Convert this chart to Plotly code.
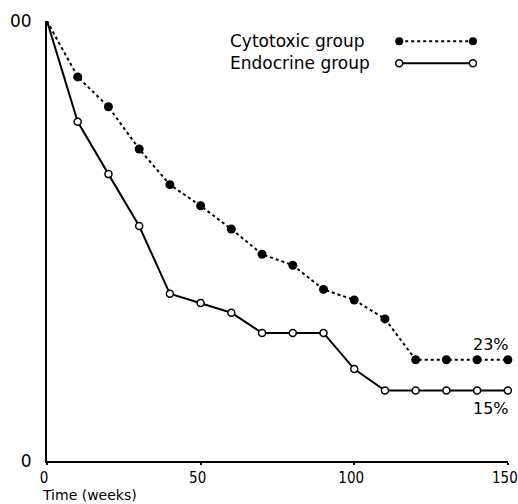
import plotly.graph_objects as go

# ---- data ----
weeks = [0, 10, 20, 30, 40, 50, 60, 70, 80, 90, 100, 110, 120, 130, 140, 150]
cytotoxic = [100, 87.3, 80.5, 70.9, 62.8, 58.0, 52.7, 47.0, 44.5, 39.0, 36.6, 32.3, 23, 23, 23, 23]
endocrine = [100, 77.1, 65.2, 53.4, 38.0, 35.9, 33.7, 29.1, 29.1, 29.1, 20.9, 16, 16, 16, 16, 16]
x_ticks = [0, 50, 100, 150]
y_ticks = [0, 100]
y_ticklabels = ["0", "00"]
series_names = ["Cytotoxic group", "Endocrine group"]
end_labels = ["23%", "15%"]

FONT = "DejaVu Sans"
TICKFONT = "DejaVu Sans Condensed, DejaVu Sans"
fig = go.Figure()

# main curves (first point has no marker)
cyt_sizes = [0] + [9] * (len(weeks) - 1)
end_sizes = [0] + [7] * (len(weeks) - 1)
fig.add_trace(go.Scatter(
    x=weeks, y=cytotoxic, mode="lines+markers", name=series_names[0],
    line=dict(color="black", width=2, dash="3px,3px"),
    marker=dict(color="black", size=cyt_sizes, symbol="circle", opacity=1,
                line=dict(width=0)),
    cliponaxis=False, showlegend=False))
fig.add_trace(go.Scatter(
    x=weeks, y=endocrine, mode="lines+markers", name=series_names[1],
    line=dict(color="black", width=2),
    marker=dict(color="white", size=end_sizes, symbol="circle", opacity=1,
                line=dict(color="black", width=1.5)),
    cliponaxis=False, showlegend=False))

# legend key drawn on an overlay axis in paper-like units
key_x = [0.764, 0.924]
key_y = [0.954, 0.904]
fig.add_trace(go.Scatter(
    x=key_x, y=[key_y[0]] * 2, xaxis="x2", yaxis="y2", mode="lines+markers",
    line=dict(color="black", width=2, dash="3px,3px"),
    marker=dict(color="black", size=8, opacity=1, line=dict(width=0)),
    showlegend=False, cliponaxis=False))
fig.add_trace(go.Scatter(
    x=key_x, y=[key_y[1]] * 2, xaxis="x2", yaxis="y2", mode="lines+markers",
    line=dict(color="black", width=2),
    marker=dict(color="white", size=7, opacity=1, line=dict(color="black", width=1.5)),
    showlegend=False, cliponaxis=False))

annotations = []
for name, ky in zip(series_names, key_y):
    annotations.append(dict(x=0.393, y=ky, xref="x2", yref="y2", text=name,
                            showarrow=False, xanchor="left", yanchor="middle",
                            font=dict(family=FONT, size=17, color="black")))
annotations.append(dict(x=weeks[-1], y=cytotoxic[-1], xref="x", yref="y",
                        text=end_labels[0], showarrow=False, xanchor="right",
                        yanchor="bottom", yshift=4, xshift=3,
                        font=dict(family=FONT, size=16, color="black")))
annotations.append(dict(x=weeks[-1], y=endocrine[-1], xref="x", yref="y",
                        text=end_labels[1], showarrow=False, xanchor="right",
                        yanchor="top", yshift=-6, xshift=3,
                        font=dict(family=FONT, size=16, color="black")))
annotations.append(dict(x=0, y=-43 / 440, xref="paper", yref="paper", text="Time (weeks)",
                        showarrow=False, xanchor="left", yanchor="bottom",
                        yshift=0, xshift=-6, borderpad=0,
                        font=dict(family=FONT, size=14, color="black")))

fig.update_layout(
    width=518, height=504,
    margin=dict(l=47, r=10, t=21, b=43),
    paper_bgcolor="white", plot_bgcolor="white",
    font=dict(family=FONT, size=15, color="black"),
    xaxis=dict(range=[0, 150.05], tickvals=x_ticks, showgrid=False, zeroline=False,
               showline=True, linecolor="black", linewidth=2,
               ticks="outside", ticklen=2, tickwidth=2, tickcolor="black",
               ticklabeloverflow="allow", automargin=False, ticklabelshift=-3,
               tickfont=dict(family=TICKFONT, size=15)),
    yaxis=dict(range=[0, 100], tickvals=y_ticks, ticktext=y_ticklabels,
               showgrid=False, zeroline=False, showline=True, linecolor="black",
               linewidth=2, ticks="", ticklabelstandoff=10, automargin=False,
               tickfont=dict(family=FONT, size=17)),
    xaxis2=dict(range=[0, 1], overlaying="x", visible=False),
    yaxis2=dict(range=[0, 1], overlaying="y", visible=False),
    annotations=annotations,
    showlegend=False,
)

fig.write_html("out.html", config={"displayModeBar": False},
               post_script="document.body.style.margin='0px';document.body.style.padding='0px';")
